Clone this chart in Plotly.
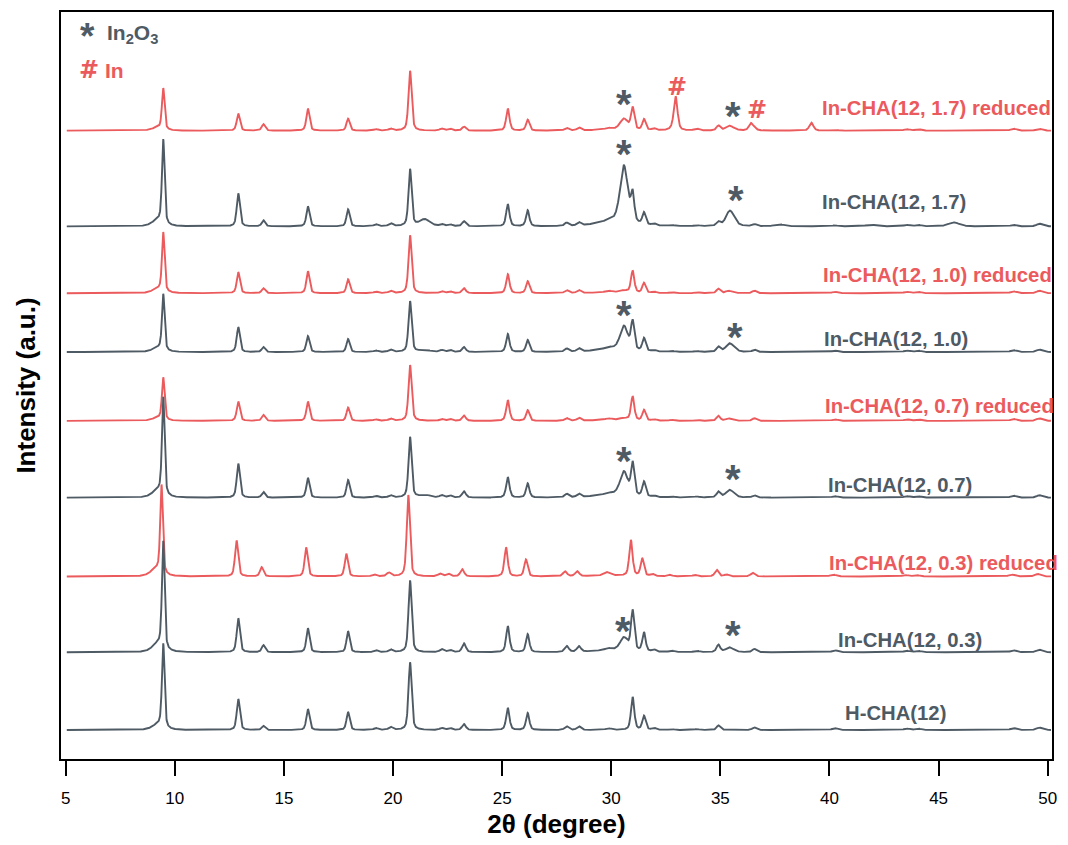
import numpy as np
import plotly.graph_objects as go

# ---------------------------------------------------------------------------
# Reflection tables (2θ in degree, FWHM in degree, heights in a.u.)
# ---------------------------------------------------------------------------
# CHA framework reflections
cha_pos = [9.22, 9.47, 12.91, 14.06, 16.10, 17.94, 19.21, 19.89, 20.78, 22.23,
           22.61, 23.25, 25.26, 26.17, 27.96, 28.52, 29.87, 30.98, 31.50, 31.96,
           32.77, 33.92, 34.91, 35.36, 36.56, 40.25, 43.54, 44.06, 48.43, 49.62]
cha_fwhm = [0.60, 0.14, 0.17, 0.18, 0.17, 0.17, 0.22, 0.22, 0.17, 0.22,
            0.22, 0.20, 0.18, 0.18, 0.22, 0.22, 0.30, 0.18, 0.18, 0.22,
            0.25, 0.25, 0.20, 0.25, 0.22, 0.30, 0.30, 0.30, 0.30, 0.30]

# In2O3 reflections (last entry: broad scattering under the (222) line)
in2o3_pos = [21.45, 30.58, 35.45, 37.70, 41.90, 45.70, 29.95]
in2o3_fwhm = [0.55, 0.42, 0.45, 0.50, 0.60, 0.60, 1.60]

# metallic In reflections
in_pos = [32.95, 36.40, 39.17]
in_fwhm = [0.20, 0.22, 0.22]

samples = ["In-CHA(12, 1.7) reduced", "In-CHA(12, 1.7)",
           "In-CHA(12, 1.0) reduced", "In-CHA(12, 1.0)",
           "In-CHA(12, 0.7) reduced", "In-CHA(12, 0.7)",
           "In-CHA(12, 0.3) reduced", "In-CHA(12, 0.3)",
           "H-CHA(12)"]

cha_h_17_red = [3, 41, 17, 6.5, 22, 12, 1.5, 2, 60, 2, 2, 4, 22, 11, 2.5, 3, 1.5, 22,
                11, 2, 1, 2, 5, 1, 2, 1, 1.5, 1.5, 2, 2]
cha_h_17 = [6, 84, 33, 6, 20, 17, 2, 3, 57, 2, 2, 5, 22, 16, 3.3, 3.3, 1.5, 27,
            12, 2, 1, 1, 4, 1, 2, 1, 1.5, 1.5, 1.5, 2.7]
cha_h_10_red = [4, 59, 21, 5, 22, 14, 1.5, 2.3, 58, 2, 2, 5, 19, 12, 3, 3, 1.5, 22,
                10, 1.5, 1, 1, 4.5, 1.5, 2.5, 1.5, 1.5, 1.5, 2, 2.5]
cha_h_10 = [4, 56, 25, 5, 16, 13, 1.5, 2.3, 51, 2, 2, 5, 18, 12, 3.3, 3.3, 1.5, 28,
            13, 1.5, 1, 1, 5, 1, 2.3, 1.5, 1.5, 1.5, 2, 2.5]
cha_h_07_red = [3, 42, 19.3, 6, 19.3, 13.3, 1.5, 2.3, 56, 2, 2, 5.3, 20.7, 10.7, 2.7,
                3, 1.5, 24, 10.7, 1.5, 1, 1, 5, 1.5, 2.7, 1.5, 1.5, 1.5, 2, 2.5]
cha_h_07 = [7, 97, 34, 5.7, 19.7, 17.7, 1.7, 2.3, 60.7, 2.3, 2.3, 6.3, 20.5, 14.2,
            3.5, 3.5, 1.5, 32, 15, 1.5, 1, 1, 5.7, 1, 2.3, 1.5, 1.5, 1.5, 2, 2.5]
cha_h_03_red = [7, 88, 36, 9.3, 29, 22.7, 2, 3.7, 81.7, 2.7, 2.7, 7.3, 29, 17, 5, 5,
                3.3, 36, 17.7, 2.3, 1.5, 1.5, 6.7, 2, 3.7, 2, 1.5, 1.5, 2, 2.5]
cha_h_03 = [8, 107, 34, 7, 24, 21, 2, 2.7, 72, 3, 2.3, 9, 26, 18, 6, 5.7, 1.7, 40,
            19, 2.3, 1.5, 1.5, 7.3, 1, 3.3, 2, 1.5, 1.5, 2, 2.5]
cha_h_h = [5, 84, 31, 4, 21, 18, 2, 3, 68, 2, 2, 6, 22, 17, 3.7, 3.7, 1.7, 33, 14, 2,
           1, 1, 4.7, 1, 2.7, 2, 1.5, 1.5, 2, 2.5]

in2o3_h_17_red = [0, 11, 4, 0, 0, 0, 1]
in2o3_h_17 = [7, 58, 15, 2, 1.5, 4, 4]
in2o3_h_10_red = [0, 2, 1, 0, 0, 0, 1]
in2o3_h_10 = [2, 24, 8, 0, 0, 0, 3]
in2o3_h_07_red = [0, 2, 1, 0, 0, 0, 1]
in2o3_h_07 = [2.7, 24, 7, 0, 0, 0, 3]
in2o3_h_03_red = [0, 0, 0, 0, 0, 0, 1]
in2o3_h_03 = [0, 13, 4, 0, 0, 0, 2]
in2o3_h_h = [0, 0, 0, 0, 0, 0, 0]

in_h_17_red = [34, 7, 8]
in_h_none = [0, 0, 0]

cha_heights = [cha_h_17_red, cha_h_17, cha_h_10_red, cha_h_10, cha_h_07_red,
               cha_h_07, cha_h_03_red, cha_h_03, cha_h_h]
in2o3_heights = [in2o3_h_17_red, in2o3_h_17, in2o3_h_10_red, in2o3_h_10,
                 in2o3_h_07_red, in2o3_h_07, in2o3_h_03_red, in2o3_h_03, in2o3_h_h]
in_heights = [in_h_17_red, in_h_none, in_h_none, in_h_none, in_h_none,
              in_h_none, in_h_none, in_h_none, in_h_none]

# small zero shift of each pattern (degree)
zero_shift = [0, 0, 0, 0, 0, 0, -0.08, 0, 0]

# vertical stacking offsets of the patterns (a.u.)
offsets = [630, 534, 467, 408, 339, 262, 183, 107, 29]

# ---------------------------------------------------------------------------
RED = "#EB5A5C"
GRAY = "#4E5A64"
FONT = "Liberation Sans, Arial"
HASH_FONT = "DejaVu Sans"
colors = [RED, GRAY, RED, GRAY, RED, GRAY, RED, GRAY, GRAY]

two_theta = np.arange(5.05, 50.16, 0.01)


def profile(pos, fwhm, heights, x, shift=0.0):
    """Sum of pseudo-Voigt lines."""
    y = np.zeros_like(x)
    for p, w, h in zip(pos, fwhm, heights):
        if h == 0:
            continue
        d = (x - p - shift) / w
        lor = 1.0 / (1.0 + 4.0 * d * d)
        gau = np.exp(-4.0 * np.log(2.0) * d * d)
        y += h * (0.5 * lor + 0.5 * gau)
    return y


fig = go.Figure()
for name, col, off, hc, ho, hi, sh in zip(samples, colors, offsets, cha_heights,
                                          in2o3_heights, in_heights, zero_shift):
    inten = (profile(cha_pos, cha_fwhm, hc, two_theta, sh)
             + profile(in2o3_pos, in2o3_fwhm, ho, two_theta, sh)
             + profile(in_pos, in_fwhm, hi, two_theta, sh))
    fig.add_trace(go.Scatter(x=two_theta, y=inten + off, mode="lines",
                             line=dict(color=col, width=1.9), name=name,
                             showlegend=False, hoverinfo="skip"))

# sample labels
label_x = [39.57, 39.57, 39.61, 39.66, 39.69, 39.84, 39.87, 40.30, 40.62]
label_y = [653, 558, 485, 421, 354, 275, 197, 119, 46]
for name, col, lx, ly in zip(samples, colors, label_x, label_y):
    fig.add_annotation(x=lx, y=ly, xref="x", yref="y", text="<b>%s</b>" % name,
                       showarrow=False, xanchor="left", yanchor="middle",
                       font=dict(family=FONT, size=20.3, color=col))

# phase markers: * In2O3, # In
star_x = [30.58, 35.60, 30.58, 35.72, 30.58, 35.68, 30.58, 35.60, 30.55, 35.60]
star_y = [657, 645, 607, 561, 445, 423, 299, 281, 128, 124]
hash_x = [33.0, 36.68]
hash_y = [674, 651]
for sx, sy in zip(star_x, star_y):
    fig.add_annotation(x=sx, y=sy, xref="x", yref="y", text="<b>*</b>",
                       showarrow=False, xanchor="center", yanchor="middle",
                       font=dict(family=FONT, size=40, color=GRAY))
for hx, hy in zip(hash_x, hash_y):
    fig.add_annotation(x=hx, y=hy, xref="x", yref="y", text="<b>#</b>",
                       showarrow=False, xanchor="center", yanchor="middle",
                       font=dict(family=HASH_FONT, size=24, color=RED))

# phase key
fig.add_annotation(x=0.017, y=0.9675, xref="paper", yref="paper", text="<b>*</b>",
                   showarrow=False, xanchor="left", yanchor="middle",
                   font=dict(family=FONT, size=37, color=GRAY))
fig.add_annotation(x=0.044, y=0.970, xref="paper", yref="paper",
                   text="<b>In<sub>2</sub>O<sub>3</sub></b>",
                   showarrow=False, xanchor="left", yanchor="middle",
                   font=dict(family=FONT, size=21, color=GRAY))
fig.add_annotation(x=0.016, y=0.922, xref="paper", yref="paper",
                   text="<b><span style='font-family:DejaVu Sans;font-size:24px'>#</span> In</b>",
                   showarrow=False, xanchor="left", yanchor="middle",
                   font=dict(family=FONT, size=21, color=RED))

fig.update_layout(
    width=1068, height=845,
    margin=dict(l=61, r=16, t=10, b=86),
    paper_bgcolor="white", plot_bgcolor="white",
    font=dict(family=FONT, color="black"),
    xaxis=dict(range=[4.785, 50.197], tickmode="array",
               tickvals=[5, 10, 15, 20, 25, 30, 35, 40, 45, 50],
               ticks="outside", ticklen=15, tickwidth=1.5, tickcolor="black",
               ticklabelstandoff=8,
               showline=True, linecolor="black", linewidth=1.5, mirror=True,
               showgrid=False, zeroline=False,
               tickfont=dict(size=17, color="black"),
               title=dict(text="<b>2θ (degree)</b>", font=dict(size=26, color="black"),
                          standoff=8)),
    yaxis=dict(range=[0, 749], showticklabels=False, ticks="",
               showline=True, linecolor="black", linewidth=1.5, mirror=True,
               showgrid=False, zeroline=False,
               title=dict(text="<b>Intensity (a.u.)</b>",
                          font=dict(size=26, color="black"), standoff=16)),
)

fig.write_html("out.html")
